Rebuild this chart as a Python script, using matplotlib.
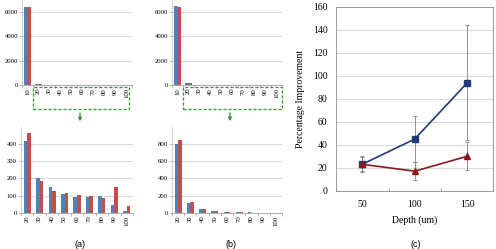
import numpy as np
import matplotlib.pyplot as plt
from matplotlib.patches import Rectangle, FancyArrowPatch

# 数据
cats = ['10', '20', '30', '40', '50', '60', '70', '80', '90', '100']
# 上排（全部区间）
a_top_blue = [6400, 60, 0, 0, 0, 0, 0, 0, 0, 0]
a_top_red = [6400, 70, 0, 0, 0, 0, 0, 0, 0, 0]
b_top_blue = [6500, 150, 0, 0, 0, 0, 0, 0, 0, 0]
b_top_red = [6450, 170, 0, 0, 0, 0, 0, 0, 0, 0]
# 下排（20-100 放大）
zoom_cats = ['20', '30', '40', '50', '60', '70', '80', '90', '100']
a_blue = [415, 200, 150, 108, 90, 90, 95, 45, 8]
a_red = [465, 183, 127, 113, 102, 100, 85, 147, 38]
b_blue = [795, 110, 40, 20, 5, 10, 3, 2, 1]
b_red = [850, 125, 40, 15, 12, 8, 2, 2, 1]

depths = ['50', '100', '150']
imp_blue = [23, 45, 94]
err_blue = [7, 20, 50]
imp_red = [23, 17, 30]
err_red = [6, 8, 12]

BLUE = '#4f81bd'
RED = '#c0504d'
SERIF = 'Liberation Serif'

W, H = 496, 249
fig = plt.figure(figsize=(W / 100, H / 100), dpi=100)


def px_axes(x0, x1, y0, y1):
    # 像素坐标 -> figure坐标
    return fig.add_axes([x0 / W, 1 - y1 / H, (x1 - x0) / W, (y1 - y0) / H])


def bar_panel(ax, labels, blue, red, ymax, step):
    n = len(labels)
    x = np.arange(n)
    w = 0.285
    ax.bar(x - w / 2, blue, w, color=BLUE, zorder=3)
    ax.bar(x + w / 2, red, w, color=RED, zorder=3)
    ax.set_xlim(-0.5, n - 0.5)
    ax.set_ylim(0, ymax)
    ax.set_yticks(np.arange(0, ymax, step))
    ax.grid(axis='y', color='#d9d9d9', linewidth=0.8, zorder=0)
    ax.set_xticks(x)
    ax.set_xticklabels(labels, rotation=90, fontsize=4.8, family=SERIF)
    ax.set_xticks(np.arange(n + 1) - 0.5, minor=True)
    ax.tick_params(axis='x', which='major', length=0, pad=2)
    ax.tick_params(axis='x', which='minor', length=2, color='#a0a0a0', width=0.5)
    ax.tick_params(axis='y', length=2, color='#a0a0a0', width=0.5, pad=1, labelsize=4.8)
    for t in ax.get_yticklabels():
        t.set_family(SERIF)
    for s in ['top', 'right']:
        ax.spines[s].set_visible(False)
    ax.spines['left'].set_color('#bfbfbf')
    ax.spines['bottom'].set_color('#a0a0a0')
    ax.spines['left'].set_linewidth(0.5)
    ax.spines['bottom'].set_linewidth(0.6)
    ax.set_facecolor('none')


# (a)
ax1 = px_axes(22, 132, 0, 85)
bar_panel(ax1, cats, a_top_blue, a_top_red, 7000, 2000)
ax2 = px_axes(21, 133, 126.7, 212.7)
bar_panel(ax2, zoom_cats, a_blue, a_red, 500, 100)

# (b)
ax3 = px_axes(172, 282, 0, 85)
bar_panel(ax3, cats, b_top_blue, b_top_red, 7000, 2000)
ax4 = px_axes(172, 282, 126.7, 212.7)
bar_panel(ax4, zoom_cats, b_blue, b_red, 1000, 200)

# 绿色虚线框和箭头
for (bx0, bx1, ax_x) in [(33, 129, 80), (183, 282, 230)]:
    fig.patches.append(Rectangle((bx0 / W, 1 - 109 / H), (bx1 - bx0) / W, 22 / H,
                                 transform=fig.transFigure, fill=False,
                                 edgecolor='#2e9a2e', linestyle=(0, (2.5, 1.5)),
                                 linewidth=0.9))
    fig.patches.append(FancyArrowPatch((ax_x / W, 1 - 110 / H), (ax_x / W, 1 - 124 / H),
                                       transform=fig.transFigure, arrowstyle='-|>',
                                       mutation_scale=5, color='#2e9a2e', linewidth=0.9))

# (c)
ax5 = px_axes(336, 493.5, 7, 190.7)
xc = np.arange(len(depths))
ax5.errorbar(xc, imp_blue, yerr=err_blue, color='#1f3a78', marker='s', markersize=4,
             linewidth=1.2, ecolor='#808080', elinewidth=0.6, capsize=1.5, capthick=0.6,
             zorder=3)
ax5.errorbar(xc, imp_red, yerr=err_red, color='#8b1a1a', marker='^', markersize=4,
             linewidth=1.2, ecolor='#808080', elinewidth=0.6, capsize=1.5, capthick=0.6,
             zorder=3)
ax5.set_xlim(-0.5, len(depths) - 0.5)
ax5.set_ylim(0, 160)
ax5.set_yticks(np.arange(0, 161, 20))
ax5.grid(axis='y', color='#d9d9d9', linewidth=0.8, zorder=0)
ax5.set_xticks(xc)
ax5.set_xticklabels(depths)
ax5.set_xticks(np.arange(len(depths) + 1) - 0.5, minor=True)
ax5.tick_params(axis='x', which='major', length=0, pad=7)
ax5.tick_params(axis='x', which='minor', length=2, direction='in', color='#808080', width=0.5)
ax5.tick_params(axis='y', length=0, pad=6)
ax5.tick_params(labelsize=7)
for t in ax5.get_xticklabels() + ax5.get_yticklabels():
    t.set_family(SERIF)
for s in ax5.spines.values():
    s.set_color('#8c8c8c')
    s.set_linewidth(0.6)
ax5.set_xlabel('Depth (um)', fontsize=7, family=SERIF, labelpad=4)
ax5.set_ylabel('Percentage Improvement', fontsize=7, family=SERIF, labelpad=6)

# 子图标题
for x, s in [(80, '(a)'), (231, '(b)'), (416, '(c)')]:
    fig.text(x / W, 1 - 244 / H, s, fontsize=6.5, family='Liberation Sans',
             ha='center', va='center')

fig.savefig('out.png', dpi=100)
